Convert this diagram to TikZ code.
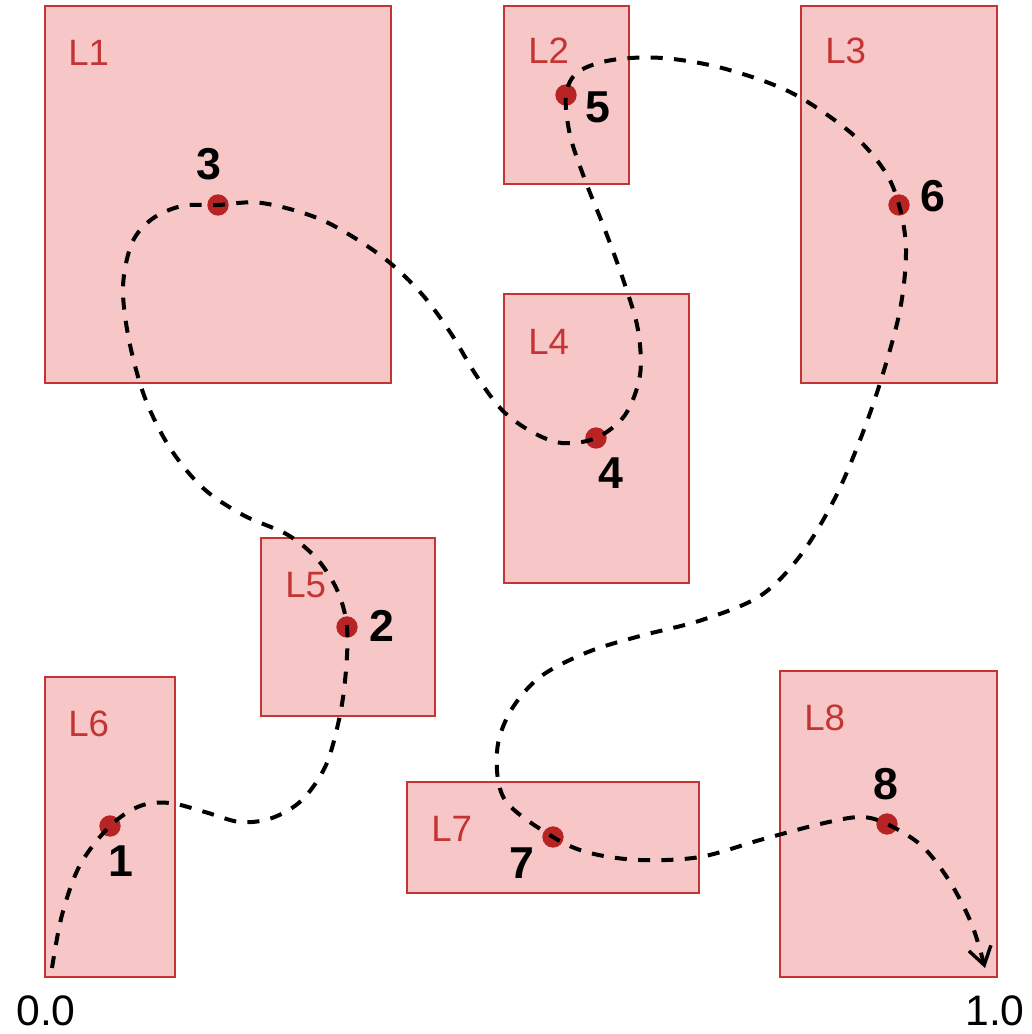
\documentclass[tikz,border=0pt]{standalone}
\usepackage{fontspec}
\setmainfont{Liberation Sans}
\usetikzlibrary{arrows.meta}
\definecolor{roomfill}{RGB}{247,198,198}
\definecolor{roomline}{RGB}{196,52,52}
\definecolor{dotred}{RGB}{184,36,36}
\begin{document}
\begin{tikzpicture}[x=0.75pt,y=-0.75pt,
  room/.style={fill=roomfill,draw=roomline,line width=1.6pt},
  lbl/.style={anchor=base west,inner sep=0pt,text=roomline,font=\fontsize{27.5}{30}\selectfont},
  dot/.style={circle,fill=dotred,inner sep=0pt,minimum size=16pt},
  num/.style={inner sep=0pt,font=\fontsize{33.5}{36}\selectfont\bfseries},
  axis/.style={inner sep=0pt,font=\fontsize{32}{34}\selectfont},
  route/.style={line width=3pt,dash pattern=on 9pt off 8.5pt,-{Straight Barb[length=13pt,width=17pt,line width=2.6pt]}}]
\useasboundingbox (0,0) rectangle (1031,1034);
% rooms
\path[room] (45,6) rectangle (391,383);
\path[room] (504,6) rectangle (629,184);
\path[room] (801,6) rectangle (997,383);
\path[room] (504,294) rectangle (689,583);
\path[room] (261,538) rectangle (435,716);
\path[room] (45,677) rectangle (175,977);
\path[room] (407,782) rectangle (699,893);
\path[room] (780,671) rectangle (997,977);
\node[lbl] (l1) at (68,66) {L1};
\node[lbl] (l2) at (528,64) {L2};
\node[lbl] (l3) at (825,64) {L3};
\node[lbl] (l4) at (528,354) {L4};
\node[lbl] (l5) at (285,597) {L5};
\node[lbl] (l6) at (68,736) {L6};
\node[lbl] (l7) at (431,841) {L7};
\node[lbl] (l8) at (804,730) {L8};
% stops
\node[dot] (p1) at (110,826) {};
\node[dot] (p2) at (347,627) {};
\node[dot] (p3) at (218,205) {};
\node[dot] (p4) at (596,438) {};
\node[dot] (p5) at (566,95) {};
\node[dot] (p6) at (899,205) {};
\node[dot] (p7) at (553,837) {};
\node[dot] (p8) at (887,824) {};
\node[num] (n1) at (121,861) {1};
\node[num] (n2) at (382,626) {2};
\node[num] (n3) at (209,164) {3};
\node[num] (n4) at (611,473) {4};
\node[num] (n5) at (598,107) {5};
\node[num] (n6) at (933,196) {6};
\node[num] (n7) at (522,863) {7};
\node[num] (n8) at (886,784) {8};
\node[axis] (a0) at (46,1011) {0.0};
\node[axis] (a1) at (995,1011) {1.0};
% route
\coordinate (s) at (52,968);
\coordinate (e) at (985,968);
\draw[route] plot[smooth,tension=0.55] coordinates {
 (s) (62,915) (80,865) (p1.center) (140,806) (170,803) (205,812) (240,822) (272,818) (302,800) (326,765) (340,715) (346,670) (p2.center)
 (338,592) (318,560) (288,535) (243,515) (203,488) (170,448) (145,398) (129,340) (123,287) (132,243) (152,219) (182,206) (p3.center)
 (262,203) (322,220) (380,255) (420,292) (450,332) (476,375) (502,410) (532,432) (562,443) (p4.center)
 (625,415) (640,375) (638,330) (625,285) (605,230) (585,180) (570,135) (p5.center)
 (578,72) (612,60) (662,58) (722,68) (790,92) (850,132) (884,170) (p6.center)
 (906,250) (900,310) (881,380) (860,440) (834,500) (800,556) (760,596) (702,620) (640,636) (588,652) (540,677) (510,712) (497,752) (505,800) (p7.center)
 (590,853) (640,860) (700,857) (760,840) (820,824) (860,817) (p8.center)
 (922,846) (950,882) (972,925) (e)};
\end{tikzpicture}
\end{document}
